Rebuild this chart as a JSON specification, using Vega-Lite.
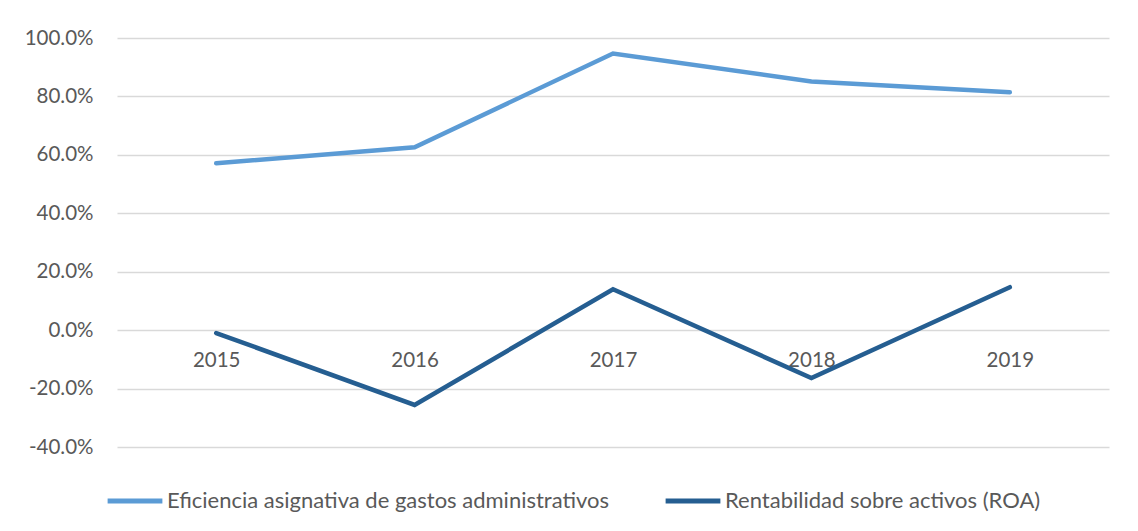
{
  "$schema": "https://vega.github.io/schema/vega-lite/v6.json",
  "width": 992,
  "height": 409,
  "autosize": {"type": "none"},
  "padding": {"left": 117, "top": 38, "right": 29, "bottom": 84},
  "background": "white",
  "config": {
    "view": {"stroke": null},
    "font": "Lato",
    "axis": {"labelFont": "Lato", "labelColor": "#595959", "labelFontSize": 20.5}
  },
  "data": {
    "values": [
      {"year": "2015", "serie": "Eficiencia asignativa de gastos administrativos", "value": 0.571},
      {"year": "2016", "serie": "Eficiencia asignativa de gastos administrativos", "value": 0.626},
      {"year": "2017", "serie": "Eficiencia asignativa de gastos administrativos", "value": 0.947},
      {"year": "2018", "serie": "Eficiencia asignativa de gastos administrativos", "value": 0.851},
      {"year": "2019", "serie": "Eficiencia asignativa de gastos administrativos", "value": 0.814},
      {"year": "2015", "serie": "Rentabilidad sobre activos (ROA)", "value": -0.010},
      {"year": "2016", "serie": "Rentabilidad sobre activos (ROA)", "value": -0.256},
      {"year": "2017", "serie": "Rentabilidad sobre activos (ROA)", "value": 0.140},
      {"year": "2018", "serie": "Rentabilidad sobre activos (ROA)", "value": -0.164},
      {"year": "2019", "serie": "Rentabilidad sobre activos (ROA)", "value": 0.147}
    ]
  },
  "mark": {"type": "line", "strokeWidth": 4.5, "strokeCap": "round", "strokeJoin": "miter"},
  "encoding": {
    "x": {
      "field": "year",
      "type": "ordinal",
      "scale": {"type": "point", "padding": 0.5},
      "axis": {
        "title": null,
        "domain": false,
        "ticks": false,
        "labelAngle": 0,
        "offset": -117,
        "labelPadding": 20,
        "zindex": 0
      }
    },
    "y": {
      "field": "value",
      "type": "quantitative",
      "scale": {"domain": [-0.4, 1.0], "nice": false, "zero": false},
      "axis": {
        "title": null,
        "domain": false,
        "ticks": false,
        "values": [-0.4, -0.2, 0, 0.2, 0.4, 0.6, 0.8, 1.0],
        "format": ".1%",
        "labelExpr": "replace(datum.label, '−', '-')",
        "labelPadding": 24,
        "gridColor": "#d9d9d9",
        "gridWidth": 1.5
      }
    },
    "color": {
      "field": "serie",
      "type": "nominal",
      "scale": {
        "domain": ["Eficiencia asignativa de gastos administrativos", "Rentabilidad sobre activos (ROA)"],
        "range": ["#5B9BD5", "#255E91"]
      },
      "legend": {
        "title": null,
        "orient": "none",
        "direction": "horizontal",
        "legendX": -12,
        "legendY": 433,
        "symbolType": "stroke",
        "symbolSize": 3000,
        "symbolStrokeWidth": 5,
        "labelFontSize": 22,
        "labelColor": "#595959",
        "labelFont": "Lato",
        "labelLimit": 700,
        "labelOffset": 2,
        "columnPadding": 45
      }
    }
  }
}
